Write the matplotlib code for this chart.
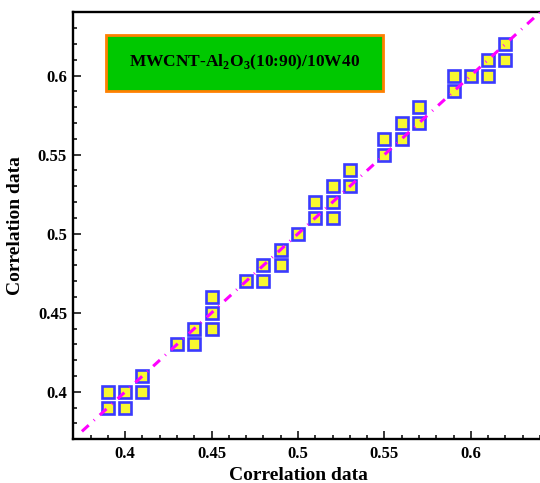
import matplotlib
matplotlib.use("Agg")
import matplotlib.pyplot as plt
from matplotlib.ticker import MultipleLocator, FuncFormatter
from matplotlib.patches import Rectangle

plt.rcParams['font.family'] = ['Liberation Serif', 'DejaVu Serif']
plt.rcParams['font.weight'] = 'bold'
plt.rcParams['mathtext.fontset'] = 'custom'
plt.rcParams['mathtext.rm'] = 'Liberation Serif:bold'
plt.rcParams['mathtext.bf'] = 'Liberation Serif:bold'

x_vals = [0.39, 0.39, 0.40, 0.40, 0.41, 0.41,
          0.43, 0.44, 0.44, 0.45, 0.45, 0.45,
          0.47, 0.48, 0.48, 0.49, 0.49, 0.50,
          0.51, 0.51, 0.52, 0.52, 0.52, 0.53, 0.53,
          0.55, 0.55, 0.56, 0.56, 0.57, 0.57,
          0.59, 0.59, 0.60, 0.61, 0.61, 0.62, 0.62]
y_vals = [0.39, 0.40, 0.39, 0.40, 0.40, 0.41,
          0.43, 0.43, 0.44, 0.44, 0.45, 0.46,
          0.47, 0.47, 0.48, 0.48, 0.49, 0.50,
          0.51, 0.52, 0.51, 0.52, 0.53, 0.53, 0.54,
          0.55, 0.56, 0.56, 0.57, 0.57, 0.58,
          0.59, 0.60, 0.60, 0.60, 0.61, 0.61, 0.62]

# y = x reference line
diag_x = [0.375, 0.64]
diag_y = [0.375, 0.64]

label_text = r"MWCNT-Al$_\mathbf{2}$O$_\mathbf{3}$(10:90)/10W40"

fig = plt.figure(figsize=(5.4, 4.83), dpi=100)
ax = fig.add_axes([0.1357, 0.0905, 0.8643, 0.884])

ax.plot(x_vals, y_vals, linestyle='none', marker='s', markersize=8.2,
        markerfacecolor='#f8f830', markeredgecolor='#3a3aff',
        markeredgewidth=1.9, zorder=2)
ax.plot(diag_x, diag_y, color='#ff00ff', linewidth=2.2,
        linestyle=(0, (3, 2.3, 0.3, 2.3)), dash_capstyle='butt', zorder=3)

ax.set_xlim(0.37, 0.64)
ax.set_ylim(0.37, 0.64)

fmt = FuncFormatter(lambda v, p: f"{v:g}")
for axis in (ax.xaxis, ax.yaxis):
    axis.set_major_locator(MultipleLocator(0.05))
    axis.set_minor_locator(MultipleLocator(0.01))
    axis.set_major_formatter(fmt)

ax.tick_params(which='both', direction='in', width=1.1, labelsize=12)
ax.tick_params(which='major', length=6, pad=4.5)
ax.tick_params(which='minor', length=3)
ax.tick_params(top=False, right=False)

for side in ('left', 'bottom', 'top'):
    ax.spines[side].set_linewidth(1.7)
ax.spines['right'].set_visible(False)

ax.set_xlabel("Correlation data", fontsize=14, fontweight='bold')
ax.set_ylabel("Correlation data", fontsize=14, fontweight='bold')
ax.xaxis.set_label_coords(0.4815, -0.065)
ax.yaxis.set_label_coords(-0.1056, 0.5)

ax.add_patch(Rectangle((0.0694, 0.8164), 0.5942, 0.1304, transform=ax.transAxes,
                       facecolor='#00c800', edgecolor='#ff8000', linewidth=2.0,
                       zorder=4))
ax.text(0.3665, 0.8816, label_text, transform=ax.transAxes, ha='center',
        va='center', fontsize=12.5, fontweight='bold', zorder=5)

fig.savefig("out.png", dpi=100)
